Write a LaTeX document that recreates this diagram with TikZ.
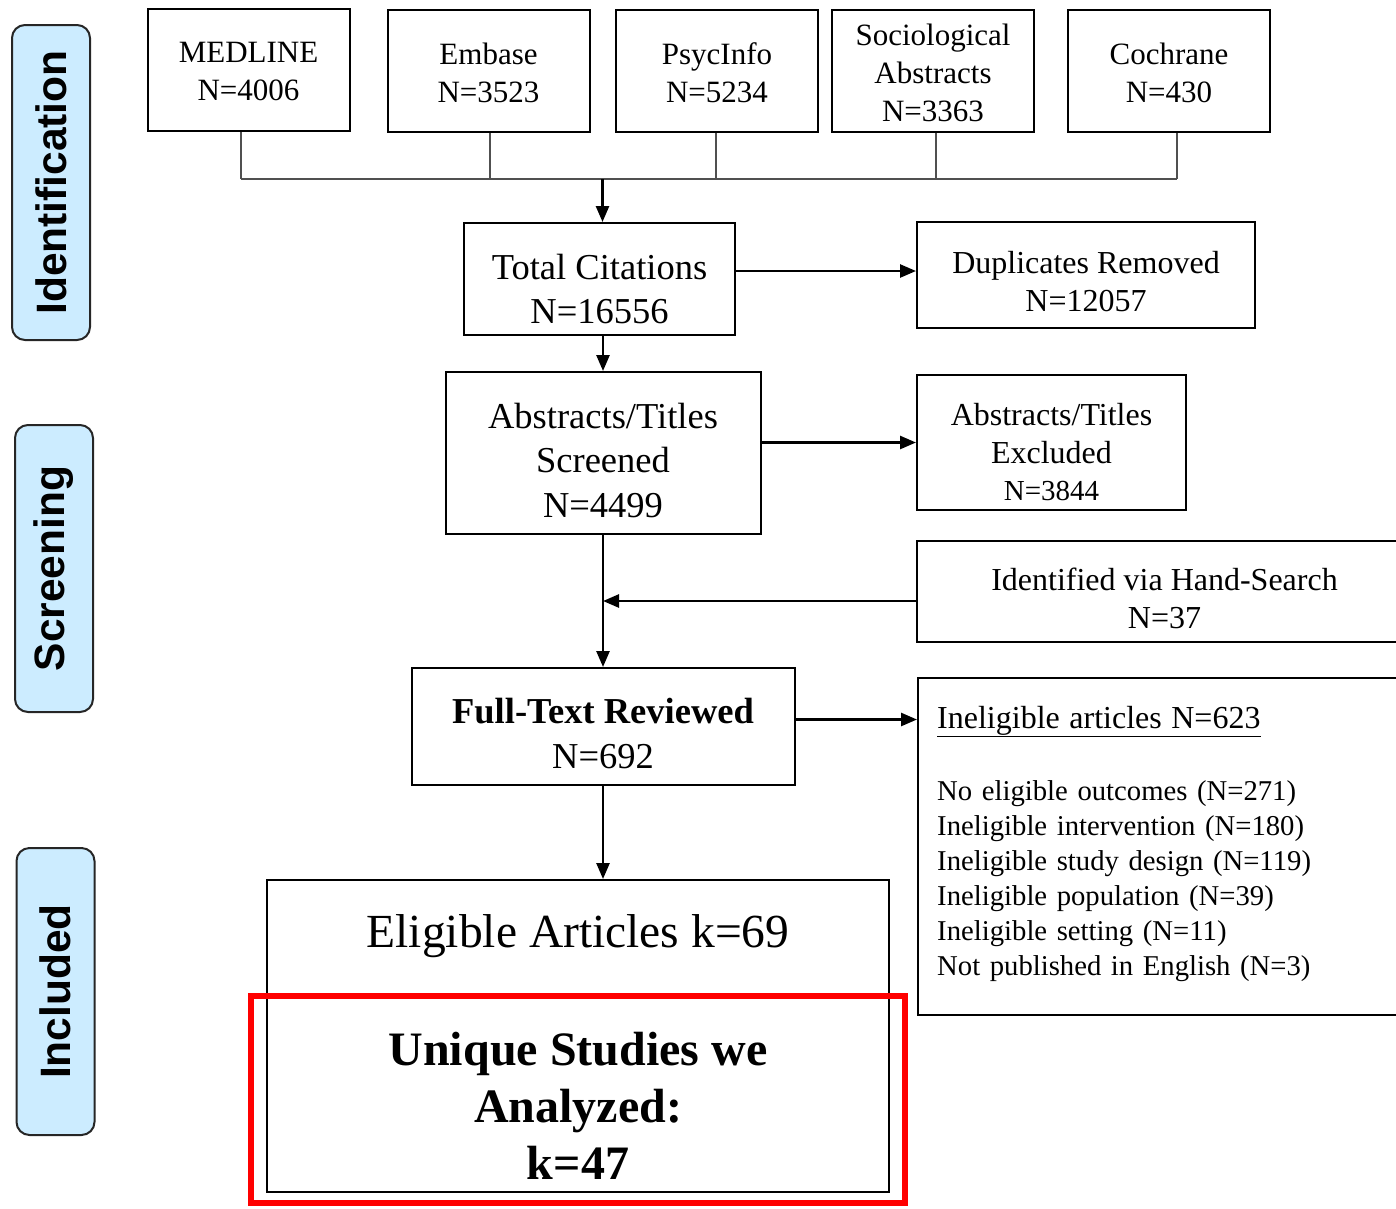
\documentclass[tikz,border=0pt]{standalone}
\usepackage{fontspec}
\setmainfont{Liberation Serif}
\setsansfont{Liberation Sans}
\usetikzlibrary{arrows.meta, positioning, fit, backgrounds, calc}
\definecolor{phaseBlue}{RGB}{204,236,255}
\definecolor{busGray}{RGB}{80,80,80}
\definecolor{hiRed}{RGB}{255,0,0}
\tikzset{
  box/.style={rectangle, draw=black, line width=2pt, inner sep=0pt},
  srcT/.style={align=center, font=\fontsize{31}{38}\selectfont},
  mainT/.style={align=center, font=\fontsize{36.5}{44.5}\selectfont},
  sideT/.style={align=center, font=\fontsize{32}{37.5}\selectfont},
  listT/.style={align=left, inner sep=0pt, text width=455pt,
    font=\fontsize{28.7}{35}\selectfont},
  phaseN/.style={rectangle, rounded corners=13pt, draw=black!85, line width=2pt,
    fill=phaseBlue, rotate=90, minimum height=78pt,
    font=\sffamily\bfseries\fontsize{42.5}{50}\selectfont},
  eligT/.style={font=\fontsize{47.5}{57}\selectfont},
  uniqT/.style={align=center, font=\bfseries\fontsize{48}{57}\selectfont},
  hilite/.style={draw=hiRed, line width=6pt},
  busline/.style={draw=busGray, line width=1.3pt},
  arr/.style={-{Triangle[length=16pt,width=13pt]}, line width=2.6pt},
}

\begin{document}
\begin{tikzpicture}[x=1pt, y=-1pt]
\useasboundingbox (0,0) rectangle (1396,1208);

%% ── PHASES ──────────────────────────────────────────────
\node[phaseN, minimum width=315pt] (idP) at (51,182.5) {Identification};
\node[phaseN, minimum width=287pt] (scP) at (54,568.5) {Screening};
\node[phaseN, minimum width=287pt] (inP) at (55.5,991.5) {Included};

%% ── DATABASES ───────────────────────────────────────────
\foreach \s/\x/\y in {med/248.5/70, emb/488.5/71, psy/717/71, soc/933/71, coc/1169/71}
  \node[box, minimum width=202pt, minimum height=122pt] (\s) at (\x,\y) {};
\node[srcT] (medT) at ([yshift=-1.5pt]med.center) {MEDLINE\\N=4006};
\node[srcT] (embT) at ([yshift=-1.5pt]emb.center) {Embase\\N=3523};
\node[srcT] (psyT) at ([yshift=-1.5pt]psy.center) {PsycInfo\\N=5234};
\node[srcT] (socT) at ([yshift=-1.5pt]soc.center) {Sociological\\Abstracts\\N=3363};
\node[srcT] (cocT) at ([yshift=-1.5pt]coc.center) {Cochrane\\N=430};

\coordinate (join) at (602.5,179);
\foreach \s/\dx in {med/-7.5, emb/1.5, psy/-1, soc/3, coc/8}
  \draw[busline] ([xshift=\dx pt]\s.south) -- ([xshift=\dx pt]\s.south |- join);
\draw[busline] ([xshift=-7.5pt]med.south |- join) -- ([xshift=8pt]coc.south |- join);

%% ── DEDUPLICATION ───────────────────────────────────────
\node[box, minimum width=271pt, minimum height=112pt] (tot) at (599.5,279) {};
\node[mainT] (totT) at ([yshift=-10pt]tot.center) {Total Citations\\N=16556};
\node[box, minimum width=338pt, minimum height=106pt] (dup) at (1086,275) {};
\node[sideT] (dupT) at ([yshift=-6.5pt]dup.center) {Duplicates Removed\\N=12057};

\draw[arr] (join) -- (join |- tot.north);
\draw[arr] ([yshift=8pt]tot.east) -- ([yshift=8pt]tot.east -| dup.west);

%% ── SCREENING ───────────────────────────────────────────
\node[box, minimum width=315pt, minimum height=162pt] (abs) at (603,453) {};
\node[mainT] (absT) at ([yshift=-7.5pt]abs.center) {Abstracts/Titles\\Screened\\N=4499};
\node[box, minimum width=269pt, minimum height=135pt] (excl) at (1051.5,442.5) {};
\node[sideT] (exclT) at ([yshift=-10pt]excl.center)
  {Abstracts/Titles\\Excluded\\{\fontsize{29}{37}\selectfont N=3844}};
\node[box, minimum width=495pt, minimum height=101pt] (hand) at (1164.5,591.5) {};
\node[sideT] (handT) at ([yshift=-7pt]hand.center) {Identified via Hand-Search\\N=37};

\draw[arr] (abs.north |- tot.south) -- (abs.north);
\draw[arr] (abs.east |- excl.west) -- (excl.west);

%% ── FULL TEXT ───────────────────────────────────────────
\node[box, minimum width=383pt, minimum height=117pt] (full) at (603,726.5) {};
\node[mainT] (fullT) at ([yshift=-7pt]full.center) {\textbf{Full-Text Reviewed}\\N=692};
\node[box, minimum width=495pt, minimum height=337pt, anchor=north west] (inel) at (917,677) {};
\node[listT, anchor=west] (inelT) at ([xshift=20pt, yshift=3pt]inel.west)
  {{\fontsize{32}{37}\selectfont\underline{Ineligible articles N=623}}\\[37pt]
   No eligible outcomes (N=271)\\
   Ineligible intervention (N=180)\\
   Ineligible study design (N=119)\\
   Ineligible population (N=39)\\
   Ineligible setting (N=11)\\
   Not published in English (N=3)};

\draw[arr] (abs.south) -- (full.north);
\coordinate (handIn) at ([yshift=-9.5pt]hand.west);
\draw[arr] (handIn) -- (handIn -| abs.south);
\coordinate (fullOut) at ([yshift=7pt]full.east);
\draw[arr] (fullOut) -- (fullOut -| inel.west);

%% ── INCLUDED ────────────────────────────────────────────
\node[box, minimum width=622pt, minimum height=312pt] (eligBox) at (578,1036) {};
\node[eligT] (elig) at (578,936) {Eligible Articles k=69};
\node[uniqT] (uniq) at (578,1106) {Unique Studies we\\Analyzed:\\k=47};
\node[hilite, minimum width=654pt, minimum height=207pt] (hiBox) at (578,1099.5) {};

\draw[arr] (full.south) -- (full.south |- eligBox.north);

\end{tikzpicture}
\end{document}
